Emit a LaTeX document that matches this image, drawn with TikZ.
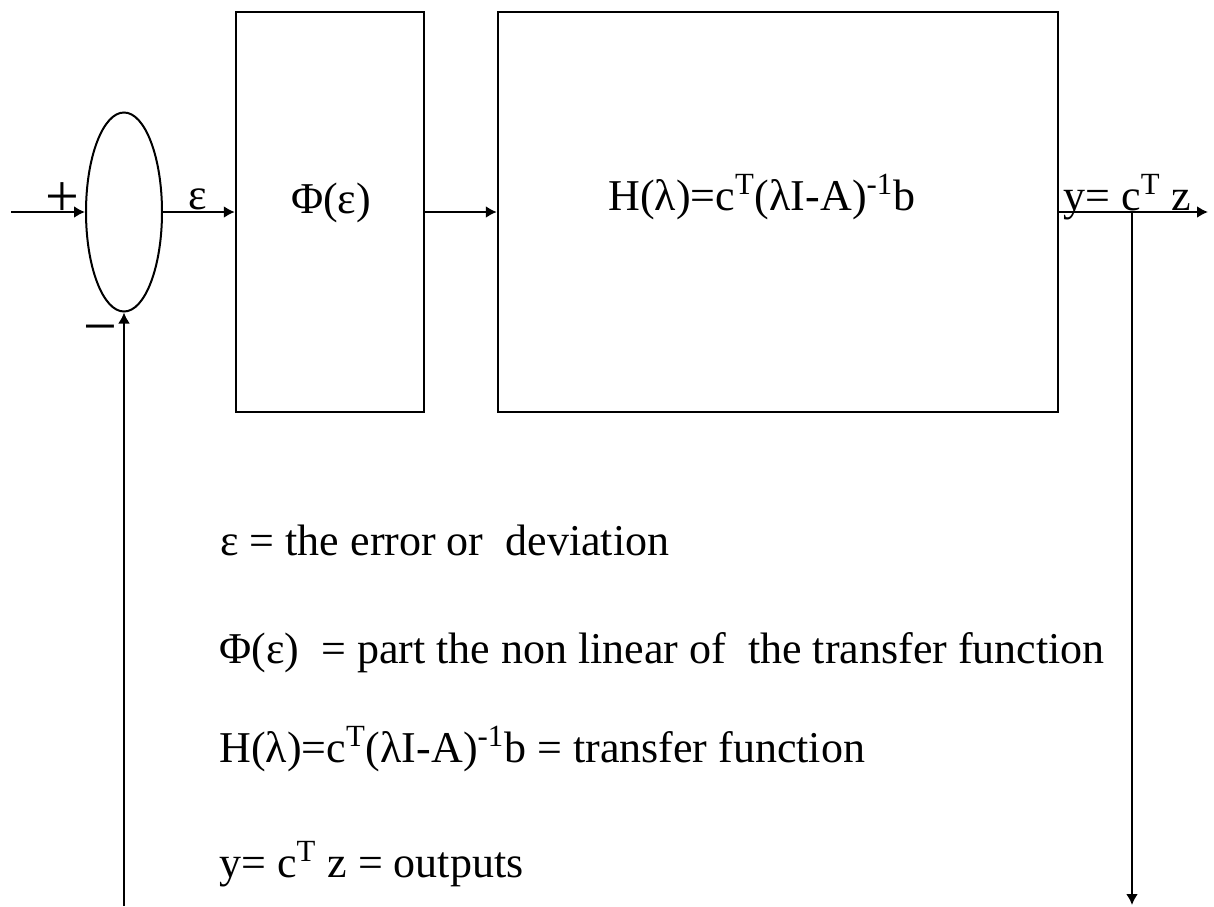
\documentclass[tikz,border=0pt]{standalone}
\usepackage{fontspec}
\setmainfont{Liberation Serif}
\usetikzlibrary{positioning,arrows.meta,shapes.geometric}

\begin{document}
\begin{tikzpicture}[x=0.5pt,y=-0.5pt,
  font=\fontsize{22}{26}\selectfont,
  blk/.style={draw, line width=1.2pt, inner sep=0pt},
  sig/.style={line width=1.3pt, -{Latex[length=5.5pt,width=6pt]}},
  sgn/.style={font=\fontsize{30}{30}\selectfont, inner sep=0pt},
  eqn/.style={anchor=base west, inner sep=0pt}]
% frame of 1214 x 906 px, 1 px = 0.5 pt, y grows downwards
\useasboundingbox (0,0) rectangle (1214,906);
% summing point and the two blocks
\node[blk, ellipse, line width=1pt, minimum width=38pt, minimum height=99.5pt] (sum) at (124,212) {};
\node[blk, minimum width=94pt, minimum height=200pt] (phi) at (330,212) {};
\node[blk, minimum width=280pt, minimum height=200pt] (lin) at (778,212) {};
% free ends of the signal lines
\coordinate (in) at (11,212);
\coordinate (out) at (1208,212);
\coordinate (tap) at (1132,212);
\coordinate (down) at (1132,905);
\coordinate (back) at (124,906);
\draw[sig] (in) -- (sum.west);
\draw[sig] (sum.east) -- (phi.west);
\draw[sig] (phi.east) -- (lin.west);
\draw[sig] (lin.east) -- (out);
\draw[sig] (tap) -- (down);
\draw[sig] (back) -- (sum.south);
% signs and labels on the loop
\node[sgn] (plus) at (62,200) {+};
\node[sgn] (minus) at (100,336) {−};
\node[anchor=base] (eps) at (198,209) {ε};
\node (phitxt) at (331,203) {Φ(ε)};
\node[eqn] (htxt) at (608,210) {H(λ)=c\textsuperscript{T}(λI-A)\textsuperscript{-1}b};
\node[eqn] (ytxt) at (1063,210) {y= c\textsuperscript{T} z};
% legend below the loop
\node[eqn] (line1) at (220,555) {ε = the error or\ \ deviation};
\node[eqn] (line2) at (219,663) {Φ(ε)\ \ = part the non linear of\ \ the transfer function};
\node[eqn] (line3) at (219,762) {H(λ)=c\textsuperscript{T}(λI-A)\textsuperscript{-1}b = transfer function};
\node[eqn] (line4) at (219,877) {y= c\textsuperscript{T} z = outputs};
\end{tikzpicture}
\end{document}
